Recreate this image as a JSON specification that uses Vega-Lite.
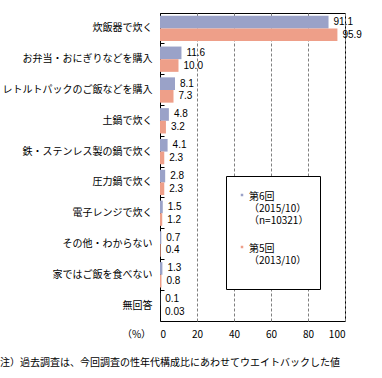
{
  "$schema": "https://vega.github.io/schema/vega-lite/v6.json",
  "width": 185,
  "height": 308,
  "autosize": "none",
  "padding": {"left": 160, "top": 13, "right": 37, "bottom": 57},
  "background": "white",
  "config": {
    "view": {"stroke": "black", "strokeWidth": 1},
    "font": "Noto Sans CJK JP"
  },
  "title": {
    "text": "注）過去調査は、今回調査の性年代構成比にあわせてウエイトバックした値",
    "orient": "bottom",
    "anchor": "start",
    "frame": "bounds",
    "font": "Noto Sans CJK JP",
    "fontSize": 10,
    "fontWeight": "normal",
    "color": "black",
    "offset": 19,
    "dx": -2
  },
  "data": {
    "values": [
      {"category": "炊飯器で炊く", "series": "第6回", "value": 91.1, "label": "91.1"},
      {"category": "炊飯器で炊く", "series": "第5回", "value": 95.9, "label": "95.9"},
      {"category": "お弁当・おにぎりなどを購入", "series": "第6回", "value": 11.6, "label": "11.6"},
      {"category": "お弁当・おにぎりなどを購入", "series": "第5回", "value": 10.0, "label": "10.0"},
      {"category": "レトルトパックのご飯などを購入", "series": "第6回", "value": 8.1, "label": "8.1"},
      {"category": "レトルトパックのご飯などを購入", "series": "第5回", "value": 7.3, "label": "7.3"},
      {"category": "土鍋で炊く", "series": "第6回", "value": 4.8, "label": "4.8"},
      {"category": "土鍋で炊く", "series": "第5回", "value": 3.2, "label": "3.2"},
      {"category": "鉄・ステンレス製の鍋で炊く", "series": "第6回", "value": 4.1, "label": "4.1"},
      {"category": "鉄・ステンレス製の鍋で炊く", "series": "第5回", "value": 2.3, "label": "2.3"},
      {"category": "圧力鍋で炊く", "series": "第6回", "value": 2.8, "label": "2.8"},
      {"category": "圧力鍋で炊く", "series": "第5回", "value": 2.3, "label": "2.3"},
      {"category": "電子レンジで炊く", "series": "第6回", "value": 1.5, "label": "1.5"},
      {"category": "電子レンジで炊く", "series": "第5回", "value": 1.2, "label": "1.2"},
      {"category": "その他・わからない", "series": "第6回", "value": 0.7, "label": "0.7"},
      {"category": "その他・わからない", "series": "第5回", "value": 0.4, "label": "0.4"},
      {"category": "家ではご飯を食べない", "series": "第6回", "value": 1.3, "label": "1.3"},
      {"category": "家ではご飯を食べない", "series": "第5回", "value": 0.8, "label": "0.8"},
      {"category": "無回答", "series": "第6回", "value": 0.1, "label": "0.1"},
      {"category": "無回答", "series": "第5回", "value": 0.03, "label": "0.03"}
    ]
  },
  "encoding": {
    "y": {
      "field": "category",
      "type": "nominal",
      "sort": null,
      "scale": {"paddingInner": 0, "paddingOuter": 0},
      "axis": {
        "title": null,
        "bandPosition": 0,
        "tickSize": -4,
        "tickColor": "black",
        "domainColor": "black",
        "labelPadding": 12,
        "labelFont": "Noto Sans CJK JP",
        "labelFontSize": 10,
        "labelColor": "black",
        "labelLimit": 200
      }
    },
    "yOffset": {
      "field": "series",
      "type": "nominal",
      "sort": ["第6回", "第5回"],
      "scale": {"paddingInner": 0, "paddingOuter": 0.217}
    },
    "x": {
      "field": "value",
      "type": "quantitative",
      "scale": {"domain": [0, 100], "nice": false},
      "axis": {
        "values": [0, 20, 40, 60, 80, 100],
        "title": "（%）",
        "titleX": -24,
        "titleY": 8,
        "titleAlign": "center",
        "titleBaseline": "top",
        "titleFont": "Noto Sans CJK JP",
        "titleFontSize": 10,
        "titleFontWeight": "normal",
        "titleColor": "black",
        "ticks": false,
        "domain": false,
        "labelPadding": 8,
        "labelFont": "Noto Sans CJK JP",
        "labelFontSize": 10,
        "labelColor": "black",
        "grid": true,
        "gridColor": "#808080",
        "gridDash": [3, 2],
        "gridWidth": 1
      }
    }
  },
  "layer": [
    {
      "mark": {"type": "bar"},
      "encoding": {
        "color": {
          "field": "series",
          "type": "nominal",
          "scale": {"domain": ["第6回", "第5回"], "range": ["#9AA2C8", "#EE9F89"]},
          "legend": {
            "title": null,
            "orient": "none",
            "legendX": 66,
            "legendY": 163,
            "direction": "vertical",
            "fillColor": "white",
            "strokeColor": "black",
            "padding": 11,
            "symbolType": "M-0.5,0.7H0.5V1.7H-0.5Z",
            "symbolSize": 25,
            "symbolStrokeWidth": 0,
            "labelFont": "Noto Sans CJK JP",
            "labelFontSize": 10,
            "labelColor": "black",
            "labelBaseline": "top",
            "labelLineHeight": 14,
            "labelOffset": 2,
            "rowPadding": 13,
            "labelExpr": "datum.value == '第6回' ? ['第6回', '（2015/10）', '（n=10321）'] : ['第5回', '（2013/10）', '　']"
          }
        }
      }
    },
    {
      "mark": {"type": "text", "align": "left", "dx": 5, "font": "Liberation Sans", "fontSize": 10, "color": "black"},
      "encoding": {"text": {"field": "label"}}
    }
  ]
}
